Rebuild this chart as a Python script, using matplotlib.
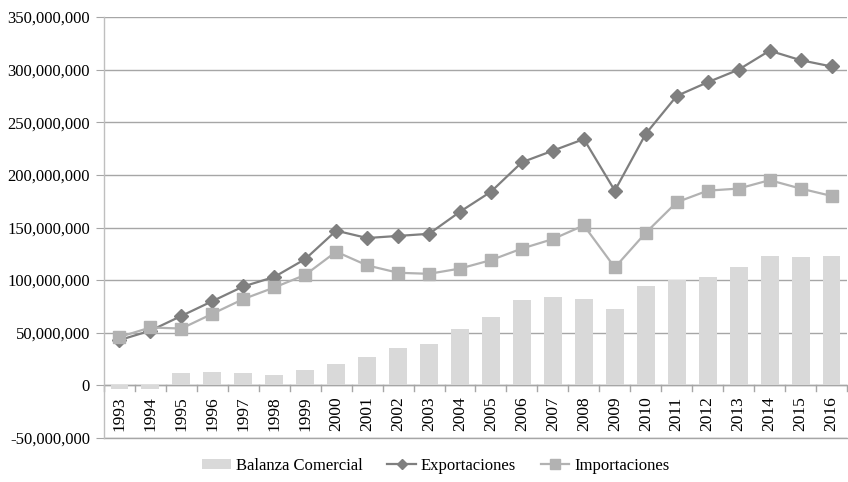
import matplotlib
matplotlib.use("Agg")
import matplotlib.pyplot as plt
from matplotlib.ticker import FuncFormatter, MultipleLocator
from matplotlib.lines import Line2D
from matplotlib.patches import Patch
import numpy as np

years = [str(y) for y in range(1993, 2017)]
balanza = [-3e6, -3e6, 12e6, 13e6, 12e6, 10e6, 15e6, 20e6, 27e6, 35.5e6, 39e6, 54e6,
           65e6, 81.5e6, 84e6, 82.5e6, 73e6, 94e6, 100e6, 103e6, 112e6, 123e6, 122e6, 123e6]
exportaciones = [43e6, 52e6, 66e6, 80e6, 94e6, 103e6, 120e6, 147e6, 140e6, 142e6, 144e6, 165e6,
                 184e6, 212e6, 223e6, 234e6, 185e6, 239e6, 275e6, 288e6, 300e6, 318e6, 309e6, 303e6]
importaciones = [46e6, 55e6, 54e6, 68e6, 82e6, 93e6, 105e6, 127e6, 114e6, 107e6, 106e6, 111e6,
                 119e6, 130e6, 139e6, 152e6, 112e6, 145e6, 174e6, 185e6, 187e6, 195e6, 187e6, 180e6]

plt.rcParams['font.family'] = ['Liberation Serif', 'DejaVu Serif']

fig = plt.figure(figsize=(8.48, 4.82), dpi=100)
ax = fig.add_axes([104/848, 1-438/482, (847-104)/848, (438-17)/482])

c_exp = '#7f7f7f'
c_imp = '#b2b2b2'
c_bal = '#d9d9d9'
x = np.arange(len(years))
ax.bar(x, balanza, width=0.58, color=c_bal, zorder=2)
ax.plot(x, exportaciones, color=c_exp, lw=1.6, marker='D', markersize=7, zorder=3)
ax.plot(x, importaciones, color=c_imp, lw=1.6, marker='s', markersize=8, zorder=3)

ax.set_xlim(-0.5, len(years)-0.5)
ax.set_ylim(-50e6, 350e6)
ax.yaxis.set_major_locator(MultipleLocator(50e6))
ax.yaxis.set_major_formatter(FuncFormatter(lambda v, p: f"{int(round(v)):,}"))
ax.grid(axis='y', color='#a6a6a6', lw=1.0, zorder=0)
ax.set_axisbelow(True)
ax.axhline(-50e6, color='#a6a6a6', lw=1.0, zorder=0, clip_on=False)

for s in ['top', 'right', 'bottom']:
    ax.spines[s].set_visible(False)
ax.spines['left'].set_color('#bfbfbf')
ax.spines['left'].set_linewidth(1.0)

ax.tick_params(axis='y', length=6, color='#a6a6a6', labelsize=12, pad=4)
ax.set_xticks([])

# x-axis at zero
ax.axhline(0, color='#a6a6a6', lw=1.0, zorder=1)
for b in np.arange(-0.5, len(years), 1.0):
    ax.plot([b, b], [0, -5.5e6], color='#a6a6a6', lw=1.0, clip_on=False, zorder=1)
for i, yr in enumerate(years):
    ax.text(i, -10.5e6, yr, rotation=90, ha='center', va='top', fontsize=12.5)

handles = [Patch(facecolor=c_bal, edgecolor='none'),
           Line2D([], [], color=c_exp, lw=1.6, marker='D', markersize=5.5),
           Line2D([], [], color=c_imp, lw=1.6, marker='s', markersize=6.5)]
labels = ['Balanza Comercial', 'Exportaciones', 'Importaciones']
fig.legend(handles, labels, loc='center', bbox_to_anchor=(436/848, 1-466/482), ncol=3,
           frameon=False, fontsize=12, handlelength=1.7, handleheight=0.6,
           columnspacing=1.5, handletextpad=0.3, borderaxespad=0)

fig.savefig('out.png', dpi=100)
